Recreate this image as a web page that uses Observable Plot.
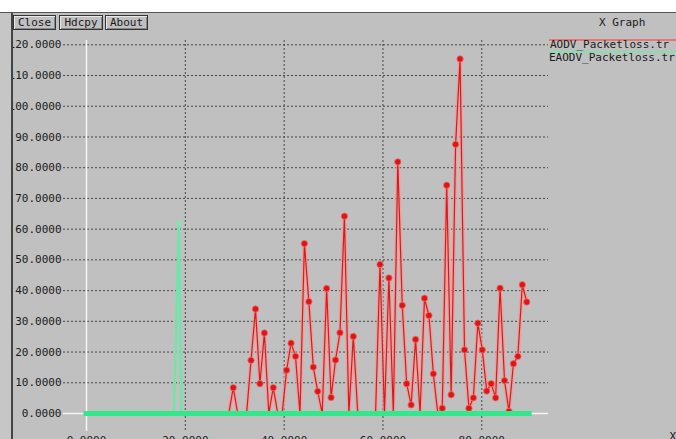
<!DOCTYPE html>
<html>
<head>
<meta charset="utf-8">
<script src="https://cdn.jsdelivr.net/npm/d3@7"></script>
<script src="https://cdn.jsdelivr.net/npm/@observablehq/plot@0.6"></script>
<style>
  html, body { margin: 0; padding: 0; }
  body { width: 676px; height: 439px; overflow: hidden; position: relative; background: #ffffff;
         font-family: "DejaVu Sans Mono", monospace; font-size: 11px; color: #1a1a1a; }
  #chart { position: absolute; left: 0; top: 0; }
  #chart svg text { font-family: "DejaVu Sans Mono", monospace !important; font-size: 11px; }
  .ov { position: absolute; }
  .btn { position: absolute; top: 15px; height: 13px; border: 1px solid #333; box-shadow: inset 1px 1px 0 #e8e8e8, inset -1px -1px 0 #888;
         background: #c0c0c0; line-height: 13px; text-align: center; font-size: 11px; }
  .leg { position: absolute; white-space: pre; line-height: 14px; font-size: 11px; }
</style>
</head>
<body>
<div id="chart"></div>
<script>
// ---- data ----
const seriesNames = ["AODV_Packetloss.tr", "EAODV_Packetloss.tr"];
const seriesColors = ["#d81a1a", "#33e88a"];
const legendLineColors = ["#e87676", "#86e0ad"];

const aodvTime = [0, 28.8, 29.7, 30.6, 32.4, 33.3, 34.2, 35.1, 36.0, 36.9, 37.8, 38.7, 39.6, 40.5, 41.4, 42.3,
  43.2, 44.1, 45.0, 45.9, 46.8, 47.7, 48.6, 49.5, 50.4, 51.3, 52.2, 53.1, 54.0, 54.9, 58.5, 59.4, 60.3, 61.2,
  62.1, 63.0, 63.9, 64.8, 65.7, 66.6, 67.5, 68.4, 69.3, 70.2, 71.1, 72.0, 72.9, 73.8, 74.7, 75.6, 76.5, 77.4,
  78.3, 79.2, 80.1, 81.0, 81.9, 82.8, 83.7, 84.6, 85.5, 86.4, 87.3, 88.2, 89.1];
const aodvLoss = [0, 0, 8.4, 0, 0, 17.3, 34.0, 9.7, 26.2, 0, 8.4, 0, 0, 14.1, 22.9, 18.6,
  0, 55.3, 36.4, 15.1, 7.2, 0, 40.7, 5.2, 17.4, 26.3, 64.2, 0, 25.1, 0, 0, 48.5, 0, 44.1,
  0, 81.9, 35.2, 9.7, 2.8, 24.1, 0, 37.5, 31.9, 12.9, 0, 1.7, 74.3, 6.1, 87.6, 115.4, 20.7, 1.7,
  5.1, 29.4, 20.7, 7.3, 9.7, 5.1, 40.8, 10.7, 0.7, 16.2, 18.6, 41.9, 36.3];

const eaodvTime = [0, 17.7, 18.7, 19.2, 89.7];
const eaodvLoss = [0, 0, 62.0, 0, 0];

const yTicks = [0, 10, 20, 30, 40, 50, 60, 70, 80, 90, 100, 110, 120];
const xTicks = [0, 20, 40, 60, 80];

// ---- build tables ----
const aodv = aodvTime.map((t, i) => ({t, v: aodvLoss[i]}));
const eaodv = eaodvTime.map((t, i) => ({t, v: eaodvLoss[i]}));
const eaodvBase = [{y: 0, x1: eaodvTime[0], x2: eaodvTime[eaodvTime.length - 1]}];
const fmt = d => d.toFixed(4);
const gridStyle = {stroke: "#3a3a3a", strokeOpacity: 0.9, strokeDasharray: "2,2", strokeWidth: 1};

const chart = Plot.plot({
  width: 676,
  height: 439,
  marginLeft: 63,
  marginRight: 128,
  marginTop: 40,
  marginBottom: 8,
  style: {background: "#c0c0c0", fontFamily: "'DejaVu Sans Mono', monospace", fontSize: "11px", color: "#1a1a1a"},
  x: {domain: [-4.655, 93.5]},
  y: {domain: [-5.86, 121.4]},
  marks: [
    Plot.gridY(yTicks.filter(d => d !== 0), gridStyle),
    Plot.gridX(xTicks.filter(d => d !== 0), gridStyle),
    Plot.ruleY([0], {stroke: "#f4f4f4", strokeWidth: 1.5}),
    Plot.ruleX([0], {stroke: "#f4f4f4", strokeWidth: 1.5}),
    Plot.axisY(yTicks, {tickSize: 0, tickPadding: 2, tickFormat: fmt, label: null}),
    Plot.axisX(xTicks, {tickSize: 0, tickPadding: 5, tickFormat: fmt, label: null}),
    // AODV (red)
    Plot.line(aodv, {x: "t", y: "v", stroke: "#f09a9a", strokeWidth: 4, strokeOpacity: 0.75}),
    Plot.line(aodv, {x: "t", y: "v", stroke: seriesColors[0], strokeWidth: 1.2}),
    Plot.dot(aodv.filter(d => d.v > 0), {x: "t", y: "v", r: 3.2, fill: "#e01414", stroke: "#f07070", strokeWidth: 0.8}),
    // EAODV (green)
    Plot.line(eaodv, {x: "t", y: "v", stroke: "#6fe6a8", strokeWidth: 2.5}),
    Plot.ruleY(eaodvBase, {y: "y", x1: "x1", x2: "x2", stroke: seriesColors[1], strokeWidth: 5, strokeLinecap: "square"}),
    Plot.dot(eaodv.filter(d => d.v > 0), {x: "t", y: "v", r: 2.5, fill: "#7de8b0"}),
    Plot.text(["X"], {frameAnchor: "bottom-right", dx: 121, dy: 1, textAnchor: "start", lineAnchor: "top", fill: "#1a1a1a"})
  ]
});
document.getElementById("chart").appendChild(chart);

// ---- window chrome ----
function add(html) { document.body.insertAdjacentHTML("beforeend", html); }
add('<div class="ov" style="left:0;top:0;width:676px;height:12px;background:#ffffff"></div>');
add('<div class="ov" style="left:0;top:12px;width:676px;height:1px;background:#555"></div>');
add('<div class="ov" style="left:0;top:13px;width:12px;height:426px;background:#c6c6c6"></div>');
add('<div class="ov" style="left:11px;top:13px;width:2px;height:426px;background:#444"></div>');
add('<div class="btn" style="left:13px;width:41px">Close</div>');
add('<div class="btn" style="left:59px;width:42px">Hdcpy</div>');
add('<div class="btn" style="left:105px;width:41px">About</div>');
add('<div class="leg" style="left:599px;top:16px">X Graph</div>');
seriesNames.forEach((name, i) => {
  const top = 39 + i * 12;
  add(`<div class="ov" style="left:549px;top:${top}px;width:127px;height:2px;background:${legendLineColors[i]}"></div>`);
});
seriesNames.forEach((name, i) => {
  const top = 38 + i * 13;
  add(`<div class="leg" style="left:${i === 0 ? 550 : 549}px;top:${top}px">${name}</div>`);
});
</script>
</body>
</html>
